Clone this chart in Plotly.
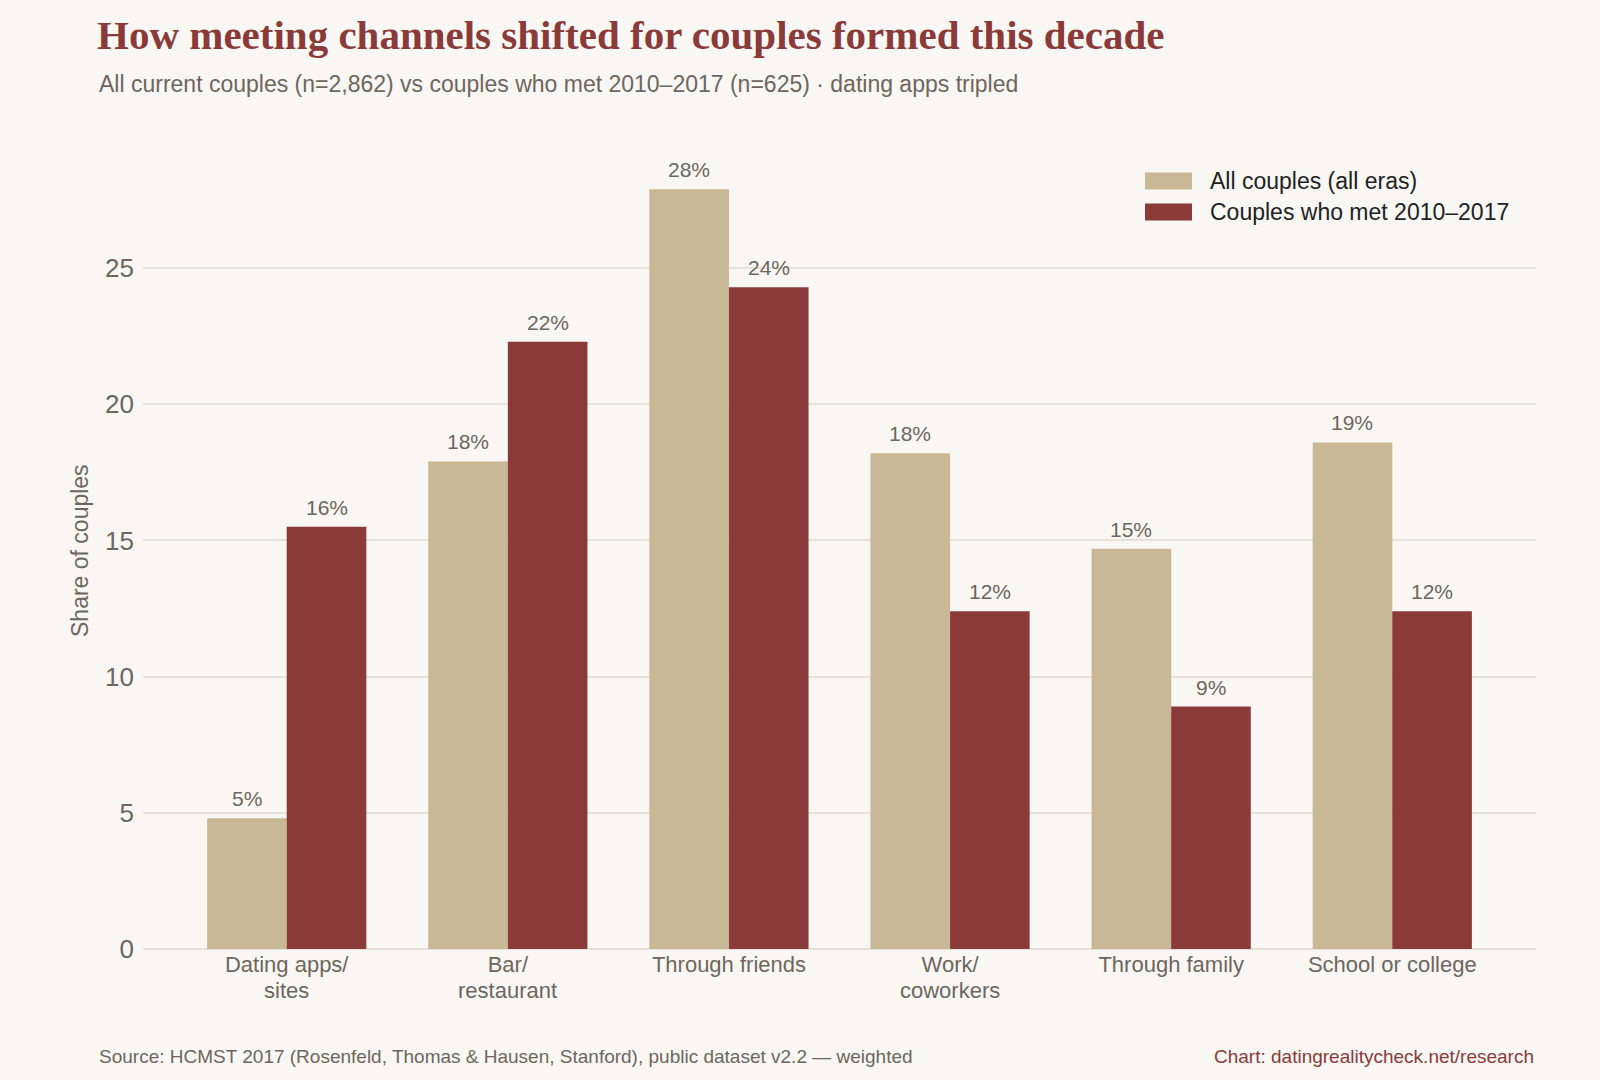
import plotly.graph_objects as go

categories = ["Dating apps/ sites", "Bar/ restaurant", "Through friends",
              "Work/ coworkers", "Through family", "School or college"]
label_line1 = ["Dating apps/", "Bar/", "Through friends", "Work/", "Through family", "School or college"]
label_line2 = ["sites", "restaurant", "", "coworkers", "", ""]
all_couples = [4.8, 17.9, 27.9, 18.2, 14.7, 18.6]
recent_couples = [15.5, 22.3, 24.3, 12.4, 8.9, 12.4]
series_names = ["All couples (all eras)", "Couples who met 2010–2017"]

TAN = "#C9B896"
RED = "#8B3A3A"
BG = "#F9F7F3"
GREY = "#6E665E"
GRID = "#E7E1D7"
SANS = "Liberation Sans, Arial, sans-serif"

W, H = 1600, 1080
ML, MR, MT, MB = 143, 64, 151, 131
PW, PH = W - ML - MR, H - MT - MB
BARGAP = 0.28

def px(x):
    return (x - ML) / PW

def py(y):
    return 1 - (y - MT) / PH

fig = go.Figure()
series = [(series_names[0], all_couples, TAN), (series_names[1], recent_couples, RED)]
for name, vals, col in series:
    fig.add_trace(go.Bar(
        x=categories, y=vals, name=name, marker=dict(color=col, line=dict(width=0)),
        showlegend=False, hoverinfo="x+y+name",
    ))

fig.update_layout(
    width=W, height=H,
    paper_bgcolor=BG, plot_bgcolor=BG,
    margin=dict(l=ML, r=MR, t=MT, b=MB),
    barmode="group", bargap=BARGAP, bargroupgap=0,
    font=dict(family=SANS, color=GREY),
    title=dict(
        text="How meeting channels shifted for couples formed this decade",
        x=97 / W, xanchor="left", xref="container",
        y=1 - 35 / H, yanchor="middle", yref="container",
        font=dict(family="Liberation Serif, serif", size=41, color=RED, weight="bold"),
    ),
    showlegend=False,
    xaxis=dict(
        range=[-0.65, 5.65], showgrid=False, zeroline=False, showline=False,
        ticks="", tickvals=categories, ticktext=label_line1,
        tickfont=dict(size=22, color=GREY),
    ),
    yaxis=dict(
        range=[0, 29.3], tickvals=[0, 5, 10, 15, 20, 25],
        showgrid=True, gridcolor=GRID, gridwidth=1.5,
        zeroline=True, zerolinecolor=GRID, zerolinewidth=2,
        showline=False, ticks="", ticklabelstandoff=8,
        tickfont=dict(size=26, color=GREY),
    ),
)

annotations = [
    dict(text="All current couples (n=2,862) vs couples who met 2010–2017 (n=625) · dating apps tripled",
         xref="paper", yref="paper", x=px(97), y=py(84), xanchor="left", yanchor="middle",
         showarrow=False, font=dict(size=23, color=GREY)),
    dict(text="Share of couples", xref="paper", yref="paper", x=px(80), y=py(551),
         xanchor="center", yanchor="middle", textangle=-90, showarrow=False,
         font=dict(size=23, color=GREY)),
    dict(text="Source: HCMST 2017 (Rosenfeld, Thomas & Hausen, Stanford), public dataset v2.2 — weighted",
         xref="paper", yref="paper", x=px(97), y=py(1056), xanchor="left", yanchor="middle",
         showarrow=False, font=dict(size=19, color=GREY)),
    dict(text="Chart: datingrealitycheck.net/research",
         xref="paper", yref="paper", x=px(1536), y=py(1056), xanchor="right", yanchor="middle",
         showarrow=False, font=dict(size=19, color=RED)),
]

# second line of category labels (tighter line spacing than plotly's default)
for i, txt in enumerate(label_line2):
    if txt:
        annotations.append(dict(text=txt, xref="x", yref="paper", x=i, y=py(990),
                                xanchor="center", yanchor="middle", showarrow=False,
                                font=dict(size=22, color=GREY)))

# value labels above bars (positioned via the axes)
bar_w = (1 - BARGAP) / len(series)
for k, (name, vals, col) in enumerate(series):
    off = (k - (len(series) - 1) / 2) * bar_w
    for i, v in enumerate(vals):
        annotations.append(dict(
            text=f"{round(v):d}%", xref="x", yref="y", x=i + off, y=v,
            xanchor="center", yanchor="bottom", yshift=6, showarrow=False,
            font=dict(size=21, color=GREY)))

# manual legend
legend_rows = [(series_names[0], TAN, 181), (series_names[1], RED, 212)]
shapes = []
for name, col, yc in legend_rows:
    shapes.append(dict(type="rect", xref="paper", yref="paper",
                       x0=px(1145), x1=px(1192), y0=py(yc - 8.5), y1=py(yc + 8.5),
                       fillcolor=col, line=dict(width=0)))
    annotations.append(dict(text=name, xref="paper", yref="paper", x=px(1208), y=py(yc),
                            xanchor="left", yanchor="middle", showarrow=False,
                            font=dict(size=23, color="#222222")))

fig.update_layout(annotations=annotations, shapes=shapes)
fig.write_html("out.html")
